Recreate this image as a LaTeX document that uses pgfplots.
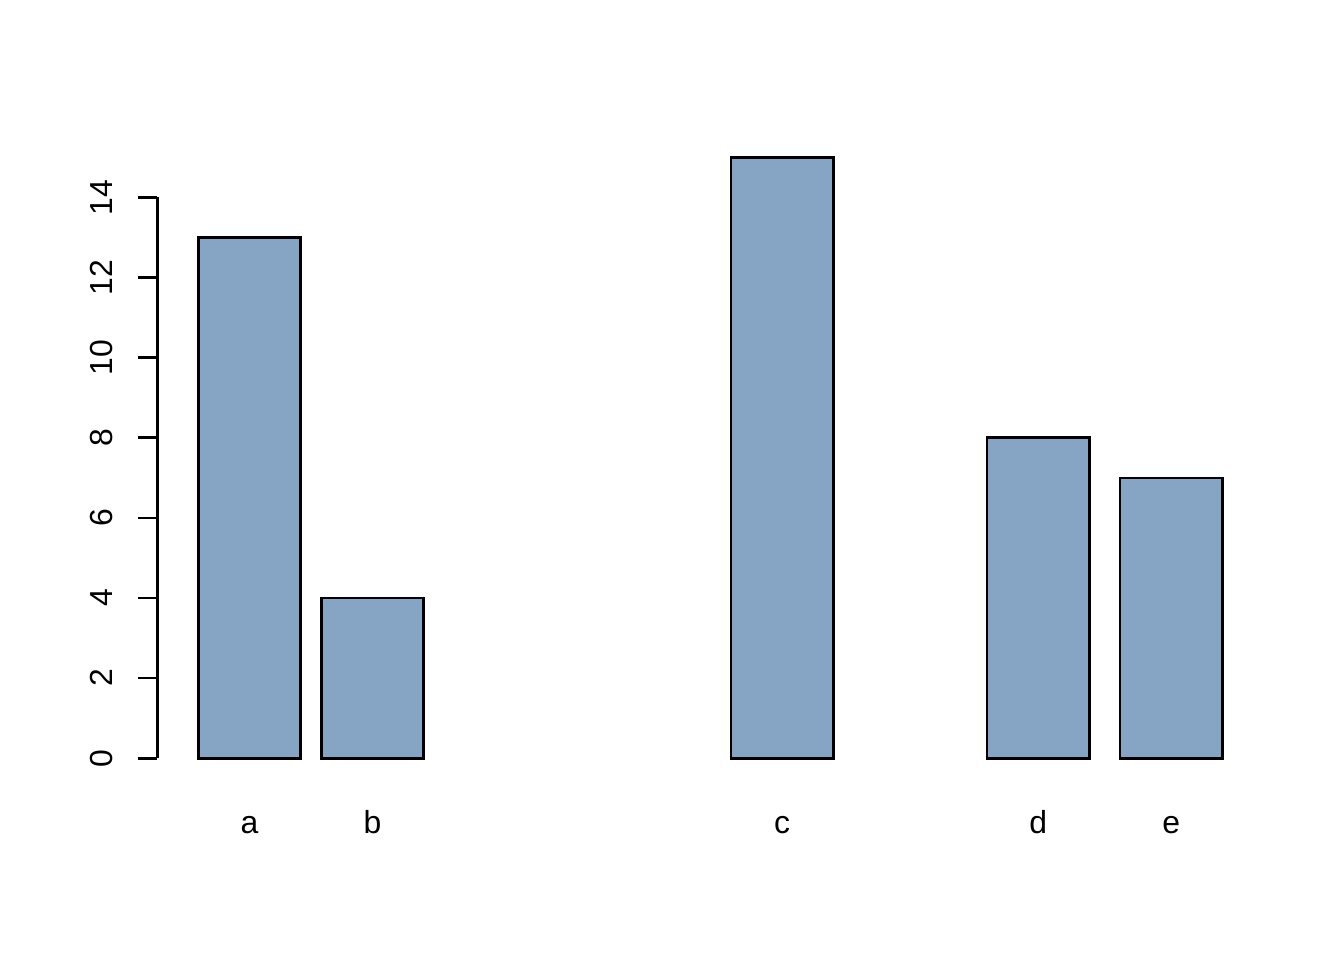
\documentclass[border=0pt]{standalone}
\usepackage{pgfplots}
\pgfplotsset{compat=1.18}
\usepackage{fontspec}
\setmainfont{Liberation Sans}
\definecolor{barblue}{RGB}{134,164,195}

\begin{document}
\begin{tikzpicture}
% page size 1344x960 px, 1 px = 0.375bp
\useasboundingbox (-59.03bp,-73.43bp) rectangle (444.97bp,286.58bp);
\begin{axis}[
    at={(0,0)}, anchor=south west,
    scale only axis,
    width=414.75bp, height=227.55bp,
    xmin=-0.2, xmax=10.6,
    ymin=-0.15, ymax=15,
    axis line style={draw=none},
    clip=false,
    font=\fontsize{12}{14}\selectfont,
    /pgf/number format/assume math mode=true,
    xtick={0.7,1.9,5.9,8.4,9.7},
    xticklabels={a,b,c,d,e},
    x tick style={draw=none},
    xticklabel style={yshift=-18.7bp, anchor=base, inner sep=0pt},
    ytick={0,2,...,14},
    ytick pos=left,
    tick align=outside,
    major tick length=7.2bp,
    y tick style={black, line width=1bp},
    yticklabel style={xshift=-9.7bp, rotate=90, anchor=base, inner sep=0pt},
]
\addplot[ybar, bar width=1, fill=barblue, draw=black, line width=1bp]
    coordinates {(0.7,13) (1.9,4) (5.9,15) (8.4,8) (9.7,7)};
\draw[black, line width=1bp] (axis cs:-0.2,0) -- (axis cs:-0.2,14);
\end{axis}
\end{tikzpicture}
\end{document}
